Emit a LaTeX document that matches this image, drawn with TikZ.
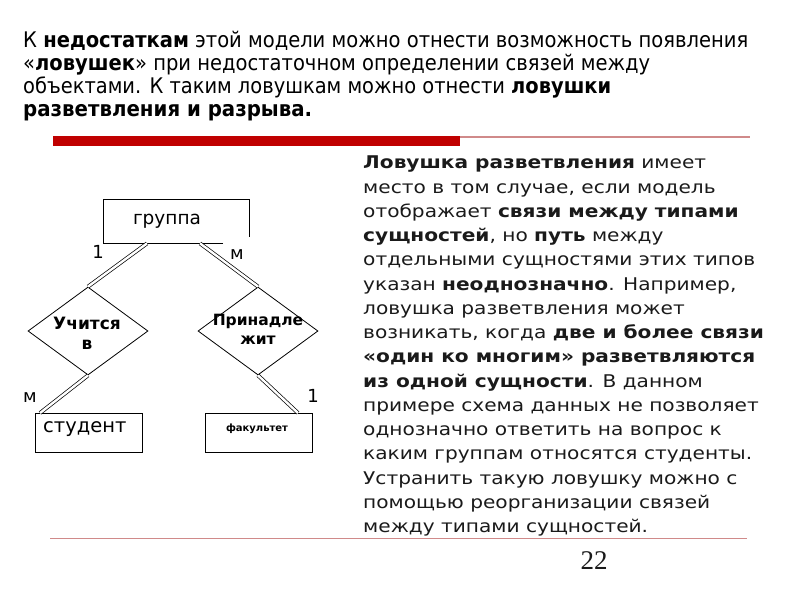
\documentclass[tikz,border=0pt]{standalone}
\usepackage{fontspec}
\usepackage{graphicx}
\setmainfont{DejaVu Sans}
\newfontfamily\rfont[FakeStretch=1.15]{DejaVu Sans}
\newfontfamily\numfont{Liberation Serif}
\usetikzlibrary{shapes.geometric}
\definecolor{barred}{HTML}{C00000}
\definecolor{thinred}{HTML}{D08A8A}
\definecolor{txt}{HTML}{1A1A1A}
\begin{document}
\begin{tikzpicture}[x=1pt,y=-1pt,
  toptxt/.style={anchor=mid west, inner sep=0, font=\fontsize{21.5}{23}\selectfont, text=black},
  rtxt/.style={anchor=mid west, inner sep=0, font=\rfont\fontsize{17.5}{20}\selectfont, text=txt},
  dbl/.style={double, double distance=2.4pt, line width=0.7pt},
  entbox/.style={draw, line width=0.8pt, rectangle, inner sep=0, anchor=north west},
  relbox/.style={draw, diamond, line width=0.8pt, inner sep=0, minimum width=120pt, minimum height=88pt},
  reltxt/.style={inner sep=0, anchor=center},
  card/.style={font=\fontsize{18}{20}\selectfont, inner sep=0, anchor=mid}
]
\useasboundingbox[fill=white] (0,0) rectangle (800,600);

% top paragraph
\node[toptxt] (t1) at (23,45) {\resizebox{725pt}{\height}{К \textbf{недостаткам} этой модели можно отнести возможность появления}};
\node[toptxt] (t2) at (23,68) {\resizebox{627pt}{\height}{«\textbf{ловушек}» при недостаточном определении связей между}};
\node[toptxt] (t3) at (23,91) {\resizebox{588pt}{\height}{объектами. К таким ловушкам можно отнести \textbf{ловушки}}};
\node[toptxt] (t4) at (23,114) {\resizebox{289pt}{\height}{\textbf{разветвления и разрыва.}}};

% bars
\fill[barred] (53,136) rectangle (460,146);
\draw[thinred, line width=1.3pt] (460,137) -- (750,137);
\draw[thinred, line width=1.3pt] (50,538.5) -- (747,538.5);

% right paragraph
\foreach \i/\t in {
 0/{\textbf{Ловушка разветвления} имеет},
 1/{место в том случае, если модель},
 2/{отображает \textbf{связи между типами}},
 3/{\textbf{сущностей}, но \textbf{путь} между},
 4/{отдельными сущностями этих типов},
 5/{указан \textbf{неоднозначно}. Например,},
 6/{ловушка разветвления может},
 7/{возникать, когда \textbf{две и более связи}},
 8/{\textbf{«один ко многим» разветвляются}},
 9/{\textbf{из одной сущности}. В данном},
 10/{примере схема данных не позволяет},
 11/{однозначно ответить на вопрос к},
 12/{каким группам относятся студенты.},
 13/{Устранить такую ловушку можно с},
 14/{помощью реорганизации связей},
 15/{между типами сущностей.}}
 {\node[rtxt] (r\i) at (363,166+24.27*\i) {\t};}

% page number
\node[font=\numfont\fontsize{27}{30}\selectfont, text=txt, inner sep=0, anchor=mid] (pg) at (594,567) {22};

% ER diagram
\node[inner sep=0, minimum width=146pt, minimum height=44pt, anchor=north west] (grp) at (103,199) {};
\draw[line width=0.8pt] (grp.south west) ++(120,0) -- (grp.south west) -- (grp.north west) -- (grp.north east) -- ++(0,38);
\node[font=\fontsize{18.5}{20}\selectfont, inner sep=0, anchor=mid] (grpt) at (167,222) {группа};

\node[relbox] (d1) at (88,331) {};
\node[reltxt, align=center, font=\fontsize{17}{19}\selectfont\bfseries] (d1t) at (87,333) {Учится\\[1pt]в};
\node[relbox] (d2) at (258,331) {};
\node[reltxt, align=center, font=\fontsize{15.5}{17}\selectfont\bfseries] (d2t) at (258,329) {Принадле\\[2pt]жит};

\node[entbox, minimum width=107pt, minimum height=39pt] (stu) at (35,413) {};
\node[font=\fontsize{19.5}{21}\selectfont, inner sep=0, anchor=mid west] (stut) at (43,430) {студент};
\node[entbox, minimum width=107pt, minimum height=39pt] (fac) at (205,413) {};
\node[font=\fontsize{10}{12}\selectfont\bfseries, inner sep=0, anchor=mid] (fact) at (257,429) {факультет};

\draw[dbl] ([xshift=44pt]grp.south west) -- (d1.north);
\draw[dbl] ([xshift=97pt]grp.south west) -- (d2.north);
\draw[dbl] (d1.south) -- ([xshift=5pt]stu.north west);
\draw[dbl] (d2.south) -- ([xshift=93pt]fac.north west);

\node[card] (c1) at (98,256) {1};
\node[card] (c2) at (237,257) {м};
\node[card] (c3) at (30,400) {м};
\node[card] (c4) at (313,400) {1};
\end{tikzpicture}
\end{document}
